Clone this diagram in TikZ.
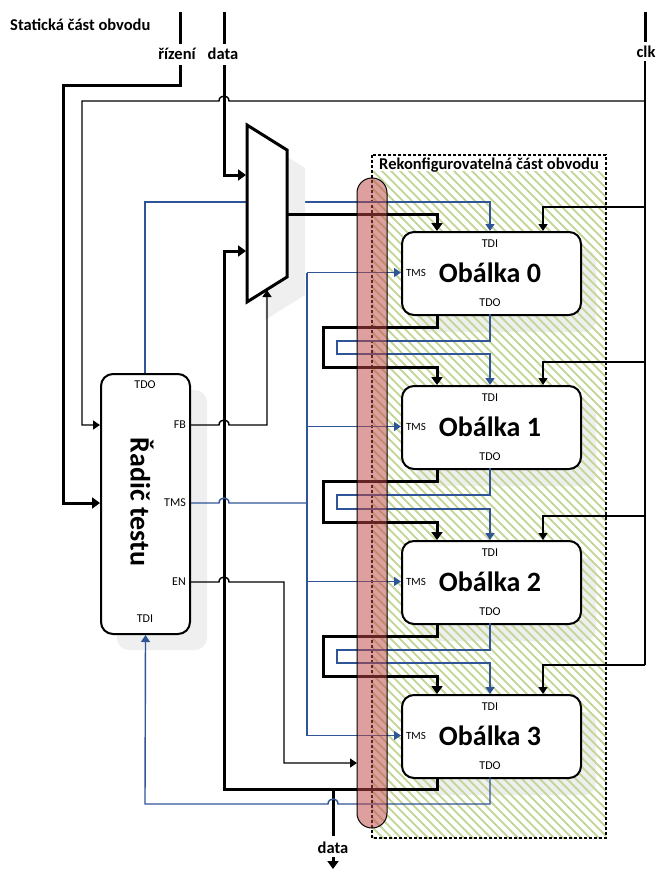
\documentclass[tikz,border=0pt]{standalone}
\usepackage{fontspec}
\setmainfont{Carlito}
\usetikzlibrary{arrows.meta}
\definecolor{myblue}{RGB}{47,85,151}
\definecolor{hatchgreen}{RGB}{196,215,155}
\definecolor{barred}{RGB}{190,72,70}
\definecolor{shadowgray}{RGB}{239,239,239}
\begin{document}
\begin{tikzpicture}[x=1pt,y=-1pt,
  thickln/.style={line width=3pt},
  thinln/.style={line width=1.4pt},
  blueln/.style={line width=1.4pt,draw=myblue},
  tarr/.style={-{Triangle[width=11pt,length=8pt]}},
  narr/.style={-{Triangle[width=9pt,length=7pt]}},
  lbl/.style={font=\fontsize{16.5}{18}\selectfont\bfseries, inner sep=0pt},
  port/.style={font=\fontsize{12}{14}\selectfont, inner sep=0pt},
  sport/.style={font=\fontsize{11}{13}\selectfont, inner sep=0pt},
  title/.style={font=\fontsize{28}{30}\selectfont\bfseries, inner sep=0pt},
  wrap/.style={draw, line width=2pt, rounded corners=12pt, fill=white, minimum width=179pt, minimum height=83pt, inner sep=0pt, anchor=north west},
  shadowbox/.style={fill=shadowgray, rounded corners=12pt}
]
\useasboundingbox (0,0) rectangle (656,870);

% shadows of wrappers
\foreach \t in {231,385,540,694}
  \fill[shadowbox] (417,\t+18) rectangle ++(179,83);

% hatch of reconfigurable part
\begin{scope}
  \clip (372,171) rectangle (606,838);
  \foreach \s in {-690,-681,...,230}
    \draw[hatchgreen, line width=2pt] (372+\s,155) -- ++(720,720);
\end{scope}
\draw[dash pattern=on 3pt off 2pt, line width=1.5pt] (372,155) rectangle (606,838);
\node[lbl] (rk) at (489,165) {Rekonfigurovatelná část obvodu};

% top labels
\node[lbl, anchor=west] (st) at (10,25) {Statická část obvodu};
\node[lbl] (rz) at (177,54) {řízení};
\node[lbl] (dt) at (223,54) {data};
\node[lbl] (ck) at (646,52) {clk};
\coordinate (rzTop) at (180,12);
\coordinate (dtTop) at (224,12);
\coordinate (ckTop) at (645,12);

% blue TDO path from controller (under mux shadow)
\coordinate (tdoC) at (145,373);
\coordinate (tdoC1) at (145,202);
\coordinate (tdi0c) at (490,202);

% wrappers
\node[wrap] (w0) at (401,231) {};
\node[wrap] (w1) at (401,385) {};
\node[wrap] (w2) at (401,540) {};
\node[wrap] (w3) at (401,694) {};
\foreach \i/\t in {0/231,1/385,2/540,3/694}{
  \node[port] (tdi\i) at (490,\t+13) {TDI};
  \node[port] (tdo\i) at (490,\t+72) {TDO};
  \node[sport] (tms\i) at (416,\t+41.5) {TMS};
  \node[title] (ob\i) at (490,\t+41.5) {Obálka \i};
}

\draw[blueln, narr] (tdoC) -- (tdoC1) -- (tdi0c) -- (w0.north west -| tdi0c);

% mux
\fill[shadowgray] (265,143) -- (305,168) -- (305,295) -- (265,320) -- cycle;
\draw[thickln, fill=white, line join=miter] (247,125) -- (287,150) -- (287,277) -- (247,302) -- cycle;
\coordinate (muxIn0) at (246,175);
\coordinate (muxIn1) at (246,251);
\coordinate (muxSel) at (267,290);
\coordinate (muxOut) at (287,214);

% controller
\fill[shadowbox] (117,390) rectangle (207,650);
\node[draw, line width=2pt, rounded corners=12pt, fill=white, minimum width=89pt, minimum height=260pt, inner sep=0pt, anchor=north west] (ctl) at (100,373) {};
\node[port] (cTDO) at (145,385) {TDO};
\node[port] (cTDI) at (145,619) {TDI};
\node[port, anchor=east] (cFB) at (186,425) {FB};
\node[port, anchor=east] (cTMS) at (186,503) {TMS};
\node[port, anchor=east] (cEN) at (186,582) {EN};
\node[title, rotate=-90] (ctlname) at (142,502) {Řadič testu};

% rizeni
\draw[thickln] (rzTop) -- (180,44);
\draw[thickln, tarr] (180,65) -- (180,85) -- (63,85) -- (63,503) -- (ctl.west |- 0,503);
% data in
\draw[thickln] (dtTop) -- (224,44);
\draw[thickln, tarr] (224,65) -- (224,175) -- (muxIn0);
% clk
\draw[thickln] (ckTop) -- (645,42);
\draw[thinln] (645,61) -- (645,665);
\draw[thinln, narr] (645,101) -- (229,101) .. controls (229,94.3) and (219,94.3) .. (219,101) -- (82,101) -- (82,425) -- (ctl.west |- 0,425);
\foreach \t/\y in {231/207,385/362,540/516,694/665}
  \draw[thinln, narr] (645,\y) -- (543,\y) -- (543,\t);

% mux output to wrapper 0
\draw[thickln, tarr] (muxOut) -- (437,214) -- (437,231);

% chains between wrappers
\foreach \b/\t in {314/385,468/540,623/694}{
  \draw[thickln, tarr] (437,\b) -- (437,\b+13) -- (323,\b+13) -- (323,\t-18) -- (437,\t-18) -- (437,\t);
  \draw[blueln, narr] (490,\b) -- (490,\b+27) -- (337,\b+27) -- (337,\t-31) -- (490,\t-31) -- (490,\t);
}

% output of last wrapper
\draw[thickln, tarr] (437,777) -- (437,789) -- (224,789) -- (224,251) -- (muxIn1);
\draw[thickln] (333,789) -- (333,836);
\node[lbl] (dout) at (333,848) {data};
\coordinate (doutA) at (333,857);
\coordinate (doutB) at (333,869);
\draw[thickln, tarr] (doutA) -- (doutB);

% blue back to controller TDI
\draw[blueln, narr] (490,777) -- (490,804) -- (338,804) .. controls (338,797.3) and (328,797.3) .. (328,804) -- (145,804) -- (ctl.south);

% FB
\draw[thinln, narr] (ctl.east |- 0,425) -- (219,425) .. controls (219,418.3) and (229,418.3) .. (229,425) -- (267,425) -- (muxSel);
% TMS
\draw[blueln] (ctl.east |- 0,503) -- (219,503) .. controls (219,496.3) and (229,496.3) .. (229,503) -- (307,503);
\draw[blueln] (307,272.5) -- (307,735.5);
\foreach \t in {231,385,540,694}
  \draw[blueln, narr] (307,\t+41.5) -- (401,\t+41.5);
% EN
\draw[thinln, narr] (ctl.east |- 0,582) -- (219,582) .. controls (219,575.3) and (229,575.3) .. (229,582) -- (284,582) -- (284,763) -- (357,763);

% red bar
\draw[fill=barred, fill opacity=0.52, line width=1pt, rounded corners=14.9pt] (357,178) rectangle (387,828);
\end{tikzpicture}
\end{document}
